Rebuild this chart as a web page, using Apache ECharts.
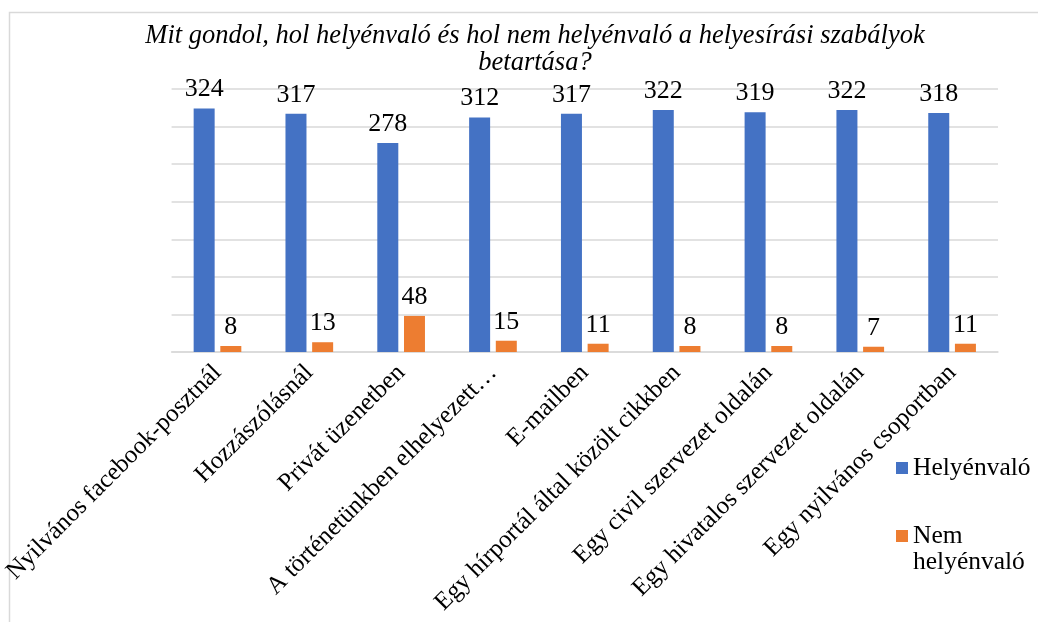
<!DOCTYPE html>
<html>
<head>
<meta charset="utf-8">
<script src="https://cdn.jsdelivr.net/npm/echarts@6/dist/echarts.min.js"></script>
<style>
    html, body { margin: 0; padding: 0; background: #fff; }
    #chart { width: 1038px; height: 622px; }
</style>
</head>
<body>
<div id="chart"></div>
<script>
    var categories = [
        'Nyilvános facebook-posztnál',
        'Hozzászólásnál',
        'Privát üzenetben',
        'A történetünkben elhelyezett…',
        'E-mailben',
        'Egy hírportál által közölt cikkben',
        'Egy civil szervezet oldalán',
        'Egy hivatalos szervezet oldalán',
        'Egy nyilvános csoportban'
    ];
    var helyenvalo = [324, 317, 278, 312, 317, 322, 319, 322, 318];
    var nemHelyenvalo = [8, 13, 48, 15, 11, 8, 8, 7, 11];

    var serif = "'Liberation Serif', 'Times New Roman', serif";

    var chart = echarts.init(document.getElementById('chart'));
    var option = {
        animation: false,
        backgroundColor: '#fff',
        title: {
            text: 'Mit gondol, hol helyénvaló és hol nem helyénvaló a helyesírási szabályok\nbetartása?',
            left: 530,
            top: 18,
            textAlign: 'center',
            textStyle: {
                fontFamily: serif,
                fontStyle: 'italic',
                fontWeight: 'normal',
                fontSize: 26.5,
                lineHeight: 27,
                color: '#000'
            }
        },
        legend: {
            orient: 'vertical',
            left: 891,
            top: 450,
            itemWidth: 12,
            itemHeight: 12,
            itemGap: 16,
            icon: 'rect',
            data: ['Helyénvaló', 'Nem helyénvaló'],
            formatter: function (name) {
                // two-line entry: keep the icon level with the first line
                if (name.indexOf(' ') > 0) {
                    return '\u00a0\n' + name.replace(' ', '\n');
                }
                return name;
            },
            textStyle: {
                fontFamily: serif,
                fontSize: 25.5,
                lineHeight: 26,
                color: '#000'
            }
        },
        grid: {
            left: 169,
            right: 40,
            top: 89,
            bottom: 270
        },
        xAxis: {
            type: 'category',
            data: categories,
            axisLine: { lineStyle: { color: '#d9d9d9', width: 1.5 } },
            axisTick: { show: false },
            axisLabel: {
                rotate: 45,
                margin: 17,
                interval: 0,
                fontFamily: serif,
                fontSize: 25,
                color: '#000'
            }
        },
        yAxis: {
            type: 'value',
            min: 0,
            max: 350,
            interval: 50,
            axisLabel: { show: false },
            axisLine: { show: false },
            axisTick: { show: false },
            splitLine: { lineStyle: { color: '#d9d9d9', width: 1.5 } }
        },
        series: [
            {
                name: 'Helyénvaló',
                type: 'bar',
                data: helyenvalo,
                barWidth: 21,
                barGap: '27%',
                itemStyle: { color: '#4472C4' },
                label: {
                    show: true,
                    position: 'top',
                    distance: 6,
                    fontFamily: serif,
                    fontSize: 26,
                    color: '#000'
                }
            },
            {
                name: 'Nem helyénvaló',
                type: 'bar',
                data: nemHelyenvalo,
                barWidth: 21,
                itemStyle: { color: '#ED7D31' },
                label: {
                    show: true,
                    position: 'top',
                    distance: 6,
                    fontFamily: serif,
                    fontSize: 26,
                    color: '#000'
                }
            }
        ],
        graphic: [
            // chart frame (top and left edges visible)
            {
                type: 'polyline',
                shape: { points: [[9.5, 622], [9.5, 12.5], [1038, 12.5]] },
                style: { stroke: '#d9d9d9', fill: null, lineWidth: 1.5 },
                silent: true
            }
        ]
    };
    chart.setOption(option);
    window.addEventListener('resize', function () {
        chart.resize();
    });
</script>
</body>
</html>
